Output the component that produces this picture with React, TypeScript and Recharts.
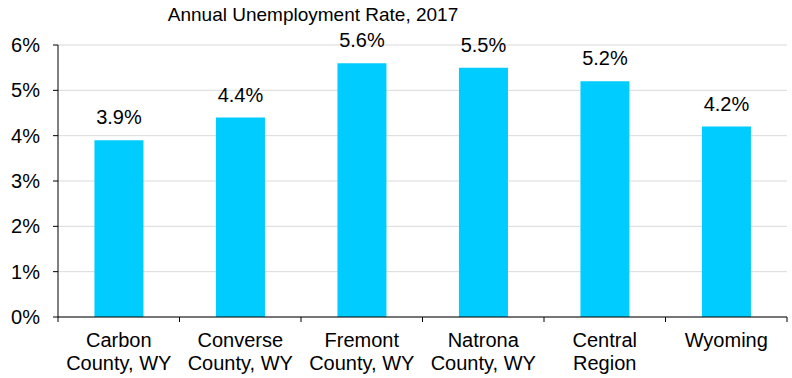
import React from 'react';
import { BarChart, Bar, XAxis, YAxis, CartesianGrid, LabelList } from 'recharts';

const categories = ['Carbon\nCounty, WY', 'Converse\nCounty, WY', 'Fremont\nCounty, WY', 'Natrona\nCounty, WY', 'Central\nRegion', 'Wyoming'];
const rates = [3.9, 4.4, 5.6, 5.5, 5.2, 4.2];
const yTicks = [0, 1, 2, 3, 4, 5, 6];
const title = 'Annual Unemployment Rate, 2017';

const data = categories.map((name, i) => ({ name, rate: rates[i] }));

const FONT = '"Liberation Sans", Arial, sans-serif';

// category label in two lines, plus tick marks at the band edges
const CategoryTick = (props: any) => {
  const { x, y, payload, index, width } = props;
  const band = width / categories.length;
  const lines = String(payload.value).split('\n');
  const left = x - band / 2;
  return (
    <g>
      <line x1={left} x2={left} y1={y - 8} y2={y - 3} stroke="#000" />
      {index === categories.length - 1 && (
        <line x1={x + band / 2} x2={x + band / 2} y1={y - 8} y2={y - 3} stroke="#000" />
      )}
      <text x={x} y={y} textAnchor="middle" fill="#000" fontSize={20} fontFamily={FONT}>
        {lines.map((l, i) => (
          <tspan key={i} x={x} dy={i === 0 ? 22 : 23}>{l}</tspan>
        ))}
      </text>
    </g>
  );
};

export default function App() {
  return (
    <div style={{ position: 'absolute', left: 0, top: 0, width: 792, height: 378, background: '#fff' }}>
      <BarChart
        width={792}
        height={378}
        data={data}
        margin={{ top: 45, right: 5, left: 8, bottom: 0 }}
        barCategoryGap="30%"
      >
        <text x={313} y={21} textAnchor="middle" fontSize={19} fontFamily={FONT} fill="#000">{title}</text>
        <CartesianGrid vertical={false} stroke="#d9d9d9" />
        <XAxis
          dataKey="name"
          interval={0}
          height={61}
          tickLine={false}
          axisLine={{ stroke: '#000' }}
          tick={<CategoryTick />}
        />
        <YAxis
          width={50}
          domain={[0, 6]}
          ticks={yTicks}
          tickFormatter={(v: number) => `${v}%`}
          tickSize={5}
          tickMargin={13}
          axisLine={{ stroke: '#000' }}
          tickLine={{ stroke: '#000' }}
          tick={{ fill: '#000', fontSize: 20, fontFamily: FONT }}
        />
        <Bar dataKey="rate" fill="#00ccff" isAnimationActive={false}>
          <LabelList
            dataKey="rate"
            position="top"
            offset={16}
            formatter={(v: number) => `${v.toFixed(1)}%`}
            style={{ fill: '#000', fontSize: 20, fontFamily: FONT }}
          />
        </Bar>
      </BarChart>
    </div>
  );
}
